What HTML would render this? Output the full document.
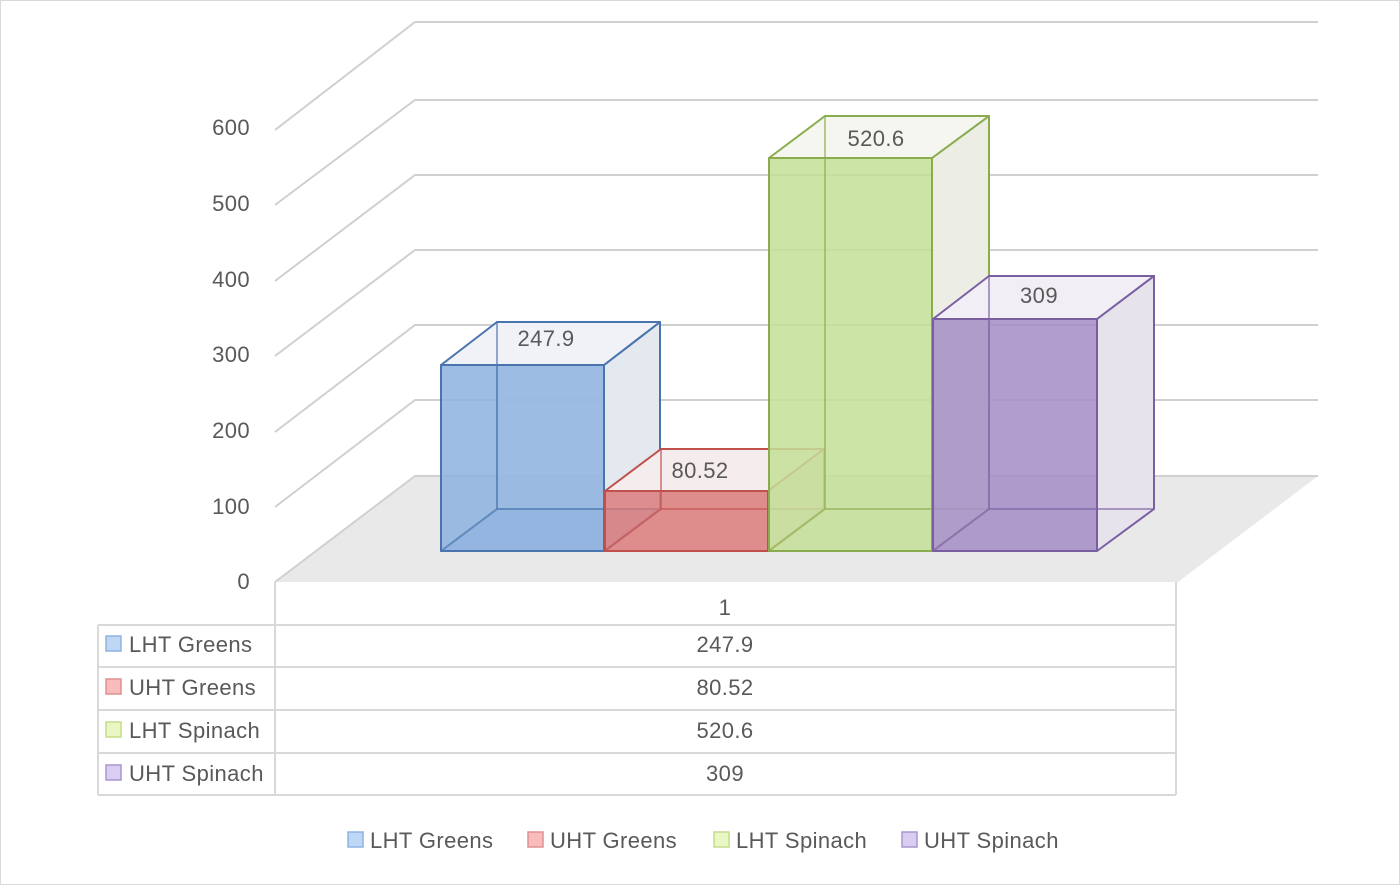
<!DOCTYPE html>
<html><head><style>
body{margin:0;background:#fff}
svg{display:block;font-family:"Liberation Sans",Calibri,sans-serif}
text{fill:#595959;font-size:22px;letter-spacing:0.4px}
</style></head><body>
<svg width="1400" height="885" viewBox="0 0 1400 885">
<rect x="0.5" y="0.5" width="1399" height="884" fill="#fff" stroke="#d9d9d9"/>
<polygon points="275,582 415,476 1318,476 1178,582" fill="#e9e9e9"/>
<g stroke="#d0d0d0" stroke-width="2" fill="none">
<polyline points="275,130 415,22 1318,22"/>
<polyline points="275,205 415,100 1318,100"/>
<polyline points="275,281 415,175 1318,175"/>
<polyline points="275,356 415,250 1318,250"/>
<polyline points="275,432 415,325 1318,325"/>
<polyline points="275,507 415,400 1318,400"/>
<polyline points="275,582 415,476 1318,476"/>
</g>
<g text-anchor="end">
<text x="250" y="135">600</text>
<text x="250" y="211">500</text>
<text x="250" y="287">400</text>
<text x="250" y="362">300</text>
<text x="250" y="438">200</text>
<text x="250" y="514">100</text>
<text x="250" y="589">0</text>
</g>
<g stroke-width="2" stroke-linejoin="round">
<g stroke="#4a74ad">
<rect x="497" y="322" width="163" height="187" fill="#e8ecf3" fill-opacity=".6"/>
<polygon points="604,365 660,322 660,509 604,551" fill="#e4e8ef"/>
<polygon points="441,365 497,322 660,322 604,365" fill="#f0f2f7"/>
<polygon points="441,551 497,509 660,509 604,551" fill="#7fa4d6" fill-opacity=".5"/>
<rect x="441" y="365" width="163" height="186" fill="#8db1df" fill-opacity=".85"/>
<line x1="497" y1="322" x2="497" y2="509" stroke-opacity=".6"/>
<line x1="497" y1="509" x2="660" y2="509" stroke-opacity=".6"/>
<line x1="441" y1="551" x2="497" y2="509" stroke-opacity=".6"/>
</g>
<g stroke="#c0504d">
<polygon points="768,491 824,449 824,509 768,551" fill="#ead8d8"/>
<polygon points="605,491 661,449 824,449 768,491" fill="#f5eded"/>
<rect x="605" y="491" width="163" height="60" fill="#dc7d7b" fill-opacity=".85"/>
<line x1="661" y1="449" x2="661" y2="509" stroke-opacity=".6"/>
<line x1="661" y1="509" x2="824" y2="509" stroke-opacity=".6"/>
<line x1="605" y1="551" x2="661" y2="509" stroke-opacity=".6"/>
</g>
<g stroke="#8aac4e">
<polygon points="932,158 989,116 989,509 932,551" fill="#eceee6"/>
<polygon points="769,158 825,116 989,116 932,158" fill="#f4f6ef"/>
<rect x="769" y="158" width="163" height="393" fill="#c3df97" fill-opacity=".85"/>
<line x1="825" y1="116" x2="825" y2="509" stroke-opacity=".6"/>
<line x1="825" y1="509" x2="989" y2="509" stroke-opacity=".6"/>
<line x1="769" y1="551" x2="825" y2="509" stroke-opacity=".6"/>
</g>
<g stroke="#7a5fa0">
<polygon points="1097,319 1154,276 1154,509 1097,551" fill="#e7e3ec"/>
<polygon points="933,319 989,276 1154,276 1097,319" fill="#f1eef5"/>
<rect x="933" y="319" width="164" height="232" fill="#a48dc6" fill-opacity=".85"/>
<line x1="989" y1="276" x2="989" y2="509" stroke-opacity=".6"/>
<line x1="989" y1="509" x2="1154" y2="509" stroke-opacity=".6"/>
<line x1="933" y1="551" x2="989" y2="509" stroke-opacity=".6"/>
</g>
</g>
<g text-anchor="middle">
<text x="546" y="346">247.9</text>
<text x="700" y="478">80.52</text>
<text x="876" y="146">520.6</text>
<text x="1039" y="303">309</text>
</g>
<g stroke="#d9d9d9" stroke-width="2" fill="none">
<line x1="275" y1="582" x2="275" y2="795"/>
<line x1="1176" y1="582" x2="1176" y2="795"/>
<line x1="98" y1="625" x2="98" y2="795"/>
<line x1="98" y1="625" x2="1176" y2="625"/>
<line x1="98" y1="667" x2="1176" y2="667"/>
<line x1="98" y1="710" x2="1176" y2="710"/>
<line x1="98" y1="753" x2="1176" y2="753"/>
<line x1="98" y1="795" x2="1176" y2="795"/>
</g>
<g text-anchor="middle">
<text x="725" y="615">1</text>
<text x="725" y="652">247.9</text>
<text x="725" y="695">80.52</text>
<text x="725" y="738">520.6</text>
<text x="725" y="781">309</text>
</g>
<g stroke-width="1.5">
<rect x="106" y="636" width="15" height="15" fill="#bdd7f5" stroke="#8eb3e0"/>
<rect x="106" y="679" width="15" height="15" fill="#f8bcbc" stroke="#e09090"/>
<rect x="106" y="722" width="15" height="15" fill="#eaf7c4" stroke="#c3dc8c"/>
<rect x="106" y="765" width="15" height="15" fill="#dacdf2" stroke="#aa95cf"/>
</g>
<text x="129" y="652">LHT Greens</text>
<text x="129" y="695">UHT Greens</text>
<text x="129" y="738">LHT Spinach</text>
<text x="129" y="781">UHT Spinach</text>
<g stroke-width="1.5">
<rect x="348" y="832" width="15" height="15" fill="#bdd7f5" stroke="#8eb3e0"/>
<rect x="528" y="832" width="15" height="15" fill="#f8bcbc" stroke="#e09090"/>
<rect x="714" y="832" width="15" height="15" fill="#eaf7c4" stroke="#c3dc8c"/>
<rect x="902" y="832" width="15" height="15" fill="#dacdf2" stroke="#aa95cf"/>
</g>
<text x="370" y="848">LHT Greens</text>
<text x="550" y="848">UHT Greens</text>
<text x="736" y="848">LHT Spinach</text>
<text x="924" y="848">UHT Spinach</text>
</svg>
</body></html>
